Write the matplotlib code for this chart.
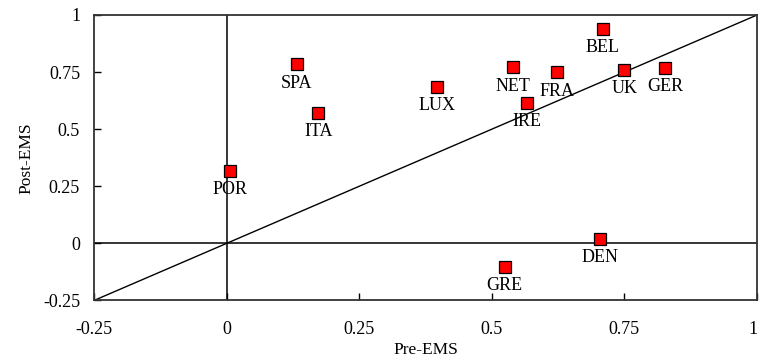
import matplotlib
matplotlib.use("Agg")
import matplotlib.pyplot as plt

# Pre-EMS vs Post-EMS correlations
countries = ["BEL", "NET", "FRA", "UK", "GER", "IRE", "SPA", "ITA", "LUX",
             "POR", "DEN", "GRE"]
pre_ems = [0.709, 0.539, 0.622, 0.750, 0.827, 0.566, 0.132, 0.173, 0.396,
           0.006, 0.704, 0.524]
post_ems = [0.939, 0.771, 0.749, 0.759, 0.767, 0.616, 0.784, 0.572, 0.686,
            0.317, 0.019, -0.102]

ticks = [-0.25, 0, 0.25, 0.5, 0.75, 1]
tick_labels = ["-0.25", "0", "0.25", "0.5", "0.75", "1"]

plt.rcParams['font.family'] = ['Liberation Serif', 'DejaVu Serif']

fig = plt.figure(figsize=(7.6, 3.62), dpi=100)
ax = fig.add_axes([0.1237, 0.170, 0.8724, 0.7886])

ax.set_xlim(-0.25, 1)
ax.set_ylim(-0.25, 1)

# reference lines: axes through zero and the 45 degree line
ax.axhline(0, color='black', lw=1.1, zorder=1)
ax.axvline(0, color='black', lw=1.1, zorder=1)
ax.plot([-0.25, 1], [-0.25, 1], color='black', lw=1.0, zorder=1)

ax.plot(pre_ems, post_ems, linestyle='none', marker='s', markersize=9.3,
        markerfacecolor='#ff0000', markeredgecolor='black',
        markeredgewidth=0.9, zorder=3)

for name, x, y in zip(countries, pre_ems, post_ems):
    ax.annotate(name, (x, y), xytext=(0, -13.5), textcoords='offset points',
                ha='center', va='center', fontsize=13, zorder=4)

ax.set_xticks(ticks)
ax.set_xticklabels(tick_labels)
ax.set_yticks(ticks)
ax.set_yticklabels(tick_labels)
ax.tick_params(axis='both', direction='in', length=5, width=1,
               labelsize=13, color='black')
ax.tick_params(axis='x', pad=15)
ax.tick_params(axis='y', pad=10)
# the last x label sits on the figure edge, keep it inside
ax.get_xticklabels()[-1].set_horizontalalignment('right')

for side in ax.spines.values():
    side.set_linewidth(1.3)
    side.set_color('#333333')

ax.set_xlabel("Pre-EMS", fontsize=12.5, labelpad=3)
ax.set_ylabel("Post-EMS", fontsize=12.5, labelpad=6)

fig.savefig("out.png", dpi=100)
